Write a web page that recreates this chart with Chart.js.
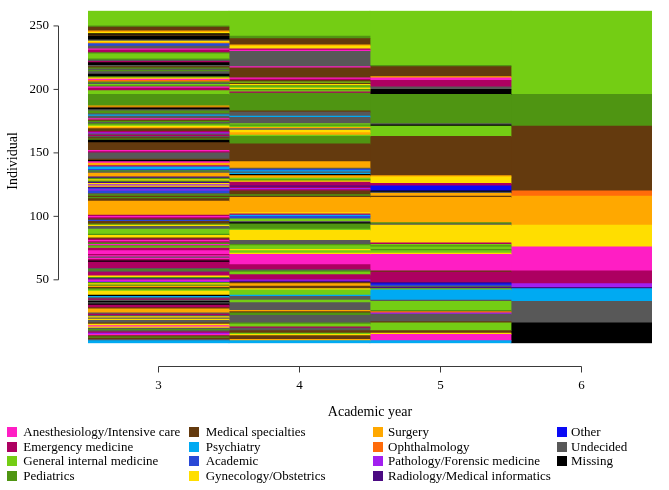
<!DOCTYPE html>
<html>
<head>
<meta charset="utf-8">
<script src="https://cdn.jsdelivr.net/npm/chart.js@4.4.1/dist/chart.umd.min.js"></script>
<style>
html,body{margin:0;padding:0;background:#fff;}
#wrap{position:relative;width:669px;height:490px;overflow:hidden;background:#fff;}
#c{position:absolute;left:0;top:0;}
.lg-sw{position:absolute;width:10px;height:10px;}
.lg-tx{position:absolute;font-family:"Liberation Serif",serif;font-size:13px;line-height:16px;height:16px;white-space:nowrap;color:#000;}
#ytitle{position:absolute;left:13px;top:161px;transform:translate(-50%,-50%) rotate(-90deg);font-family:"Liberation Serif",serif;font-size:14px;line-height:16px;white-space:nowrap;color:#000;}
</style>
</head>
<body>
<div id="wrap"><canvas id="c" width="669" height="490"></canvas><div id="ytitle">Individual</div><div id="legend"></div></div>
<script>
// ---------------- data ----------------
const academicYears = ['3', '4', '5', '6'];
const nIndividuals = 262;
const yTickValues = [50, 100, 150, 200, 250];

const stateCodes = ['A','E','G','P','M','Y','C','O','S','H','T','R','X','U','N'];
const stateLabels = [
  'Anesthesiology/Intensive care', 'Emergency medicine', 'General internal medicine', 'Pediatrics',
  'Medical specialties', 'Psychiatry', 'Academic', 'Gynecology/Obstetrics',
  'Surgery', 'Ophthalmology', 'Pathology/Forensic medicine', 'Radiology/Medical informatics',
  'Other', 'Undecided', 'Missing'
];
const stateColors = [
  '#FF1EC4', '#AD0061', '#74CD14', '#4F9512',
  '#643A0E', '#00AAF2', '#2948D6', '#FFDE00',
  '#FFA800', '#FF6B0A', '#A21FF0', '#4B0A82',
  '#0A0AF5', '#585858', '#000000'
];

// runs of individuals (bottom to top): [state code, number of individuals]
const year3Runs = [
  ['Y',2],['U',1],['M',1],['P',1],['M',1],['A',1],['T',1],['E',1],['U',1],['P',1],['U',1],['O',1],['A',1],['O',1],['M',1],
  ['U',2],['O',1],['U',1],['O',1],['U',1],['E',1],['U',1],['S',3],['M',1],['E',2],['N',1],['U',1],['N',1],['U',1],['E',1],
  ['U',1],['Y',1],['N',1],['O',3],['G',1],['P',1],['M',1],['S',1],['P',1],['O',1],['P',1],['T',1],['A',1],['R',1],['P',1],
  ['O',1],['E',3],['U',1],['P',1],['U',1],['E',5],['N',1],['E',1],['A',1],['U',1],['A',1],['E',1],['A',3],['E',2],['G',1],
  ['P',1],['A',1],['P',1],['E',1],['A',1],['E',1],['M',1],['O',2],['P',1],['G',4],['U',2],['O',1],['P',1],['M',2],['C',1],
  ['M',1],['E',1],['A',1],['E',1],['S',11],['M',2],['P',1],['M',1],['P',1],['U',1],['C',2],['T',1],['C',1],['R',1],['O',1],
  ['T',1],['O',1],['R',1],['P',1],['O',1],['P',1],['R',1],['S',3],['U',1],['P',1],['C',1],['Y',2],['E',1],['S',2],['A',1],
  ['N',1],['M',1],['U',5],['E',1],['A',1],['M',6],['N',2],['P',1],['M',1],['U',1],['E',1],['U',1],['T',1],['E',1],['M',2],
  ['S',1],['O',1],['G',1],['P',1],['U',1],['P',1],['M',1],['A',1],['U',2],['Y',1],['U',1],['P',2],['U',1],['N',1],['M',1],
  ['S',1],['P',9],['G',3],['E',2],['A',1],['P',1],['G',1],['U',1],['P',1],['H',1],['A',1],['O',1],['P',1],['N',2],['U',2],
  ['P',1],['U',1],['P',1],['M',1],['U',1],['N',2],['E',1],['U',1],['P',1],['G',4],['P',1],['E',2],['A',1],['U',2],['C',2],
  ['S',1],['O',1],['U',1],['N',3],['M',1],['N',1],['O',1],['S',1],['M',3],['P',1],['G',12]
];
const year4Runs = [
  ['Y',2],['S',1],['M',3],['O',1],['G',1],['M',2],['U',2],['E',1],['G',2],['P',1],['U',6],['P',2],['M',1],['S',1],['U',6],
  ['G',2],['U',3],['Y',1],['G',4],['O',1],['M',2],['S',2],['M',1],['R',1],['T',1],['E',4],['G',2],['P',1],['U',1],['E',4],
  ['A',8],['O',1],['G',2],['O',1],['G',3],['P',1],['U',3],['O',8],['G',1],['P',4],['N',1],['U',1],['G',2],['C',2],['Y',1],
  ['E',1],['O',1],['S',12],['M',1],['P',1],['M',3],['E',1],['T',1],['E',1],['R',1],['E',3],['O',1],['P',1],['G',1],['S',2],
  ['N',1],['Y',1],['U',1],['Y',1],['C',1],['U',1],['S',5],['M',14],['P',6],['G',1],['S',2],['O',2],['U',1],['S',1],['G',1],
  ['P',1],['G',1],['U',5],['Y',1],['U',3],['M',1],['P',14],['E',1],['G',1],['P',1],['O',1],['G',1],['P',1],['O',1],['M',1],
  ['G',1],['M',1],['E',1],['A',1],['M',8],['A',1],['U',12],['A',1],['E',1],['O',2],['S',1],['M',5],['P',2],['G',20]
];
const year5Runs = [
  ['Y',2],['A',5],['O',1],['M',2],['G',6],['M',1],['U',6],['T',1],['H',1],['P',1],['G',7],['U',1],['Y',8],['G',1],['R',1],
  ['U',1],['C',1],['X',1],['R',1],['E',8],['M',1],['A',13],['O',1],['G',2],['P',1],['G',2],['P',1],['G',1],['E',1],['O',14],
  ['U',1],['P',1],['S',20],['M',1],['S',2],['U',1],['N',1],['X',4],['E',2],['O',5],['S',1],['M',31],['G',8],['N',1],['U',1],
  ['P',23],['N',4],['U',2],['E',5],['A',2],['S',1],['M',8],['P',1],['G',43]
];
const year6Runs = [
  ['N',16],['U',17],['Y',10],['R',1],['T',3],['E',10],['A',19],['O',17],['S',23],['H',4],['M',51],['P',25],['G',66]
];
const runsByYear = [year3Runs, year4Runs, year5Runs, year6Runs];

// ---------------- build datasets ----------------
const colorOf = {};
stateCodes.forEach((c, i) => { colorOf[c] = stateColors[i]; });

const datasets = [];
runsByYear.forEach((runs, yi) => {
  let start = 0;
  runs.forEach(([code, count]) => {
    const data = academicYears.map(() => null);
    data[yi] = [start, start + count];
    datasets.push({
      label: code,
      data: data,
      backgroundColor: colorOf[code],
      borderWidth: 0,
      grouped: false,
      barPercentage: 1,
      categoryPercentage: 1,
      inflateAmount: 0.4
    });
    start += count;
  });
});

const SERIF = '"Liberation Serif", serif';

// R-style axis lines (only between first and last tick)
const rAxes = {
  id: 'rAxes',
  afterDraw(chart) {
    const {ctx, chartArea, scales: {x, y}} = chart;
    ctx.save();
    ctx.strokeStyle = '#3a3a3a';
    ctx.lineWidth = 1;
    // y axis
    const ax = Math.round(chartArea.left - 30) + 0.5;
    const y0 = y.getPixelForValue(yTickValues[0]);
    const y1 = y.getPixelForValue(yTickValues[yTickValues.length - 1]);
    ctx.beginPath();
    ctx.moveTo(ax, y0); ctx.lineTo(ax, y1);
    yTickValues.forEach(v => {
      const p = y.getPixelForValue(v);
      ctx.moveTo(ax, p); ctx.lineTo(ax - 5, p);
    });
    ctx.stroke();
    // x axis
    const ay = Math.round(chartArea.bottom + 23) + 0.5;
    const xa = x.getPixelForValue(0), xb = x.getPixelForValue(academicYears.length - 1);
    ctx.beginPath();
    ctx.moveTo(xa, ay); ctx.lineTo(xb, ay);
    academicYears.forEach((_, i) => {
      const p = x.getPixelForValue(i);
      ctx.moveTo(p, ay); ctx.lineTo(p, ay + 6);
    });
    ctx.stroke();
    ctx.restore();
  }
};

new Chart(document.getElementById('c'), {
  type: 'bar',
  data: { labels: academicYears, datasets: datasets },
  options: {
    responsive: false,
    animation: false,
    events: [],
    layout: { padding: { left: 0, right: 17, top: 10.7, bottom: 66.7 } },
    plugins: { legend: { display: false }, tooltip: { enabled: false } },
    scales: {
      x: {
        type: 'category',
        offset: true,
        grid: { display: false, drawTicks: true, tickLength: 34 },
        border: { display: false },
        ticks: { color: '#000', font: { family: SERIF, size: 13 }, padding: 0, maxRotation: 0 },
        title: { display: true, text: 'Academic year', color: '#000', font: { family: SERIF, size: 14 }, padding: { top: 0, bottom: 3 } },
        afterFit(s) { s.height = 80; }
      },
      y: {
        type: 'linear',
        min: 0,
        max: nIndividuals,
        grid: { display: false, drawTicks: true, tickLength: 39 },
        border: { display: false },
        ticks: { color: '#000', font: { family: SERIF, size: 13 }, padding: 0 },
        afterBuildTicks(s) { s.ticks = yTickValues.map(v => ({ value: v })); },
        title: { display: false },
        afterFit(s) { s.width = 88; }
      }
    }
  },
  plugins: [rAxes]
});

// ---------------- legend (4 columns, column-major) ----------------
const legendColBox = [7.3, 189.3, 373, 556.5];
const legendColText = [23.3, 205.7, 388, 571];
const legendRowCenter = [432, 446.7, 461.3, 475.6];
const legendEl = document.getElementById('legend');
stateLabels.forEach((lab, i) => {
  const col = Math.floor(i / 4), row = i % 4;
  const sw = document.createElement('div');
  sw.className = 'lg-sw';
  sw.style.left = legendColBox[col] + 'px';
  sw.style.top = (legendRowCenter[row] - 5) + 'px';
  sw.style.background = stateColors[i];
  legendEl.appendChild(sw);
  const tx = document.createElement('div');
  tx.className = 'lg-tx';
  tx.style.left = legendColText[col] + 'px';
  tx.style.top = (legendRowCenter[row] - 8) + 'px';
  tx.textContent = lab;
  legendEl.appendChild(tx);
});
</script>
</body>
</html>
